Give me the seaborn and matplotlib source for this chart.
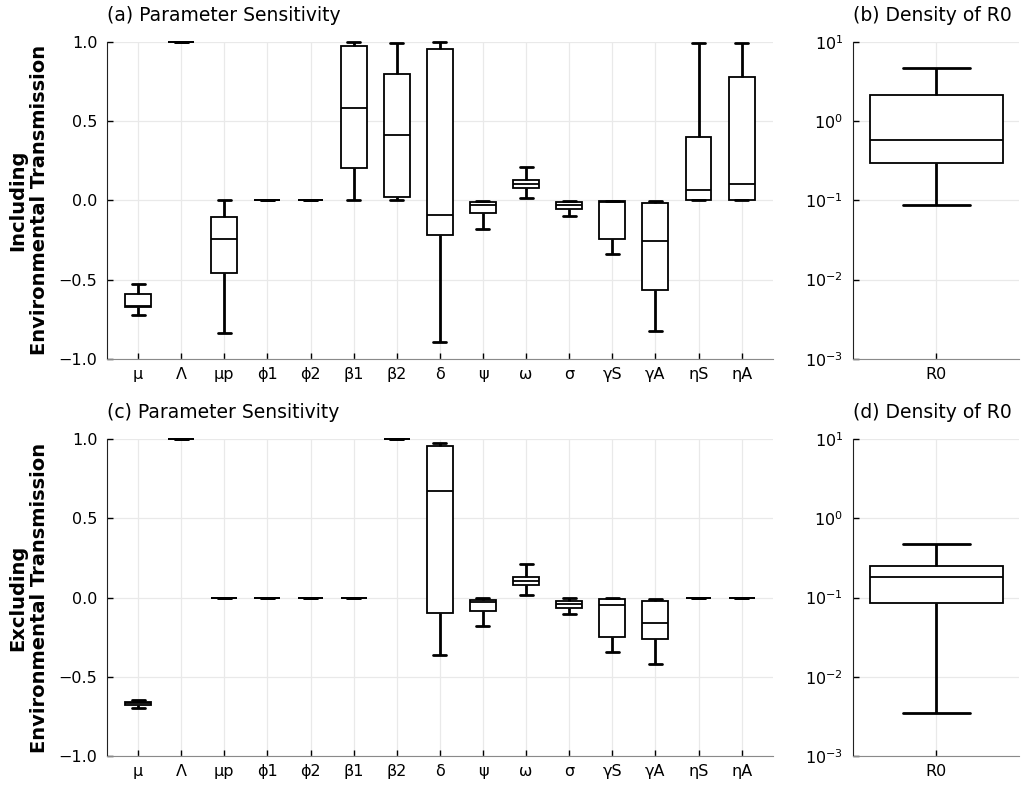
# -*- coding: utf-8 -*-
"""
参数敏感性箱线图 + R0 分布 (含/不含环境传播)
"""
import numpy as np
import pandas as pd
import seaborn as sns
import matplotlib.pyplot as plt

#%% 数据: 每个参数 [下须, Q1, 中位数, Q3, 上须]
params = ['μ', 'Λ', 'μp', 'ϕ1', 'ϕ2', 'β1', 'β2', 'δ', 'ψ', 'ω', 'σ', 'γS', 'γA', 'ηS', 'ηA']

sens_incl = [
    [-0.725, -0.675, -0.665, -0.590, -0.527],   # μ
    [1.0, 1.0, 1.0, 1.0, 1.0],                  # Λ
    [-0.840, -0.461, -0.245, -0.107, 0.0],      # μp
    [0.0, 0.0, 0.0, 0.0, 0.0],                  # ϕ1
    [0.0, 0.0, 0.0, 0.0, 0.0],                  # ϕ2
    [0.004, 0.202, 0.585, 0.977, 1.0],          # β1
    [0.0, 0.023, 0.415, 0.800, 0.995],          # β2
    [-0.893, -0.217, -0.093, 0.958, 1.0],       # δ
    [-0.179, -0.082, -0.032, -0.010, -0.004],   # ψ
    [0.015, 0.078, 0.103, 0.130, 0.210],        # ω
    [-0.099, -0.055, -0.032, -0.013, -0.004],   # σ
    [-0.341, -0.244, -0.008, -0.006, -0.004],   # γS
    [-0.824, -0.566, -0.257, -0.015, -0.003],   # γA
    [0.0, 0.0, 0.067, 0.400, 0.992],            # ηS
    [0.0, 0.005, 0.105, 0.777, 0.995],          # ηA
]

sens_excl = [
    [-0.695, -0.676, -0.667, -0.661, -0.646],   # μ
    [1.0, 1.0, 1.0, 1.0, 1.0],                  # Λ
    [0.0, 0.0, 0.0, 0.0, 0.0],                  # μp
    [0.0, 0.0, 0.0, 0.0, 0.0],                  # ϕ1
    [0.0, 0.0, 0.0, 0.0, 0.0],                  # ϕ2
    [0.0, 0.0, 0.0, 0.0, 0.0],                  # β1
    [1.0, 1.0, 1.0, 1.0, 1.0],                  # β2
    [-0.362, -0.095, 0.672, 0.958, 0.973],      # δ
    [-0.177, -0.082, -0.025, -0.013, -0.004],   # ψ
    [0.017, 0.078, 0.105, 0.133, 0.210],        # ω
    [-0.101, -0.063, -0.040, -0.019, -0.002],   # σ
    [-0.341, -0.246, -0.044, -0.006, -0.002],   # γS
    [-0.417, -0.261, -0.160, -0.019, -0.008],   # γA
    [0.0, 0.0, 0.0, 0.0, 0.0],                  # ηS
    [0.0, 0.0, 0.0, 0.0, 0.0],                  # ηA
]

r0_incl = [0.0865, 0.293, 0.573, 2.12, 4.64]
r0_excl = [0.00352, 0.0865, 0.182, 0.254, 0.476]

row_labels = ['Including\nEnvironmental Transmission',
              'Excluding\nEnvironmental Transmission']
titles_left = ['(a) Parameter Sensitivity', '(c) Parameter Sensitivity']
titles_right = ['(b) Density of R0', '(d) Density of R0']


def to_long(stats, names):
    rows = []
    for n, s in zip(names, stats):
        for v in s:
            rows.append({'param': n, 'value': v})
    return pd.DataFrame(rows)


#%% 画图
sns.set_style('ticks')
plt.rcParams['font.family'] = ['DejaVu Sans']
plt.rcParams['text.color'] = 'black'
plt.rcParams['axes.labelcolor'] = 'black'
plt.rcParams['xtick.color'] = 'black'
plt.rcParams['ytick.color'] = 'black'

fig = plt.figure(figsize=(10.21, 7.85), dpi=100)

box_kw = dict(color='white', linecolor='black', linewidth=1.3,
              whis=(0, 100), saturation=1, fliersize=0,
              whiskerprops=dict(linewidth=2.0, color='black'),
              capprops=dict(linewidth=2.0, color='black'),
              medianprops=dict(linewidth=1.3, color='black'),
              boxprops=dict(edgecolor='black', linewidth=1.3))

lefts = [0.1048, 0.8355]
widths = [0.652, 0.163]
bottoms = [0.543, 0.037]
height = 0.4035

for r, (sens, r0) in enumerate([(sens_incl, r0_incl), (sens_excl, r0_excl)]):
    ax = fig.add_axes([lefts[0], bottoms[r], widths[0], height])
    df = to_long(sens, params)
    sns.boxplot(data=df, x='param', y='value', order=params, width=0.6, ax=ax, **box_kw)
    ax.set_xlim(-0.72, len(params) - 0.28)
    ax.set_ylim(-1.0, 1.0)
    ax.set_yticks([-1.0, -0.5, 0.0, 0.5, 1.0])
    ax.set_yticklabels(['−1.0', '−0.5', '0.0', '0.5', '1.0'])
    ax.set_xlabel('')
    ax.set_ylabel('')
    ax.set_title(titles_left[r], loc='left', fontsize=13.5, pad=15)

    ax2 = fig.add_axes([lefts[1], bottoms[r], widths[1], height])
    df2 = pd.DataFrame({'param': ['R0'] * len(r0), 'value': r0})
    sns.boxplot(data=df2, x='param', y='value', width=0.8, log_scale=True, ax=ax2, **box_kw)
    ax2.set_xlim(-0.5, 0.5)
    ax2.set_ylim(1e-3, 1e1)
    ax2.set_yticks([1e-3, 1e-2, 1e-1, 1e0, 1e1])
    ax2.yaxis.set_minor_locator(plt.NullLocator())
    ax2.set_xlabel('')
    ax2.set_ylabel('')
    ax2.set_title(titles_right[r], loc='left', fontsize=13.5, pad=15)

    for a in (ax, ax2):
        a.grid(True, color='#e9e9e9', linewidth=0.9)
        a.set_axisbelow(True)
        for s in ['top', 'right']:
            a.spines[s].set_visible(False)
        a.spines['left'].set_color('#222222')
        a.spines['bottom'].set_color('#8a8a8a')
        a.tick_params(direction='in', length=4, width=1, color='black',
                      labelsize=11.5, pad=6)
        a.tick_params(axis='y', pad=7)
        # 边界上的箱子不裁剪
        for art in list(a.patches) + list(a.lines):
            art.set_clip_on(False)

    fig.text(0.028, bottoms[r] + height / 2, row_labels[r], rotation=90,
             ha='center', va='center', multialignment='center',
             fontsize=14, fontweight='bold')

plt.savefig('out.png', dpi=100)
